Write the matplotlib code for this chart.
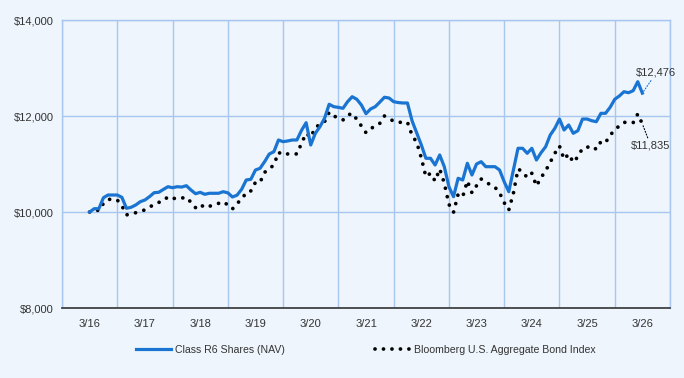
#!/usr/bin/env python3
# coding: utf-8

import matplotlib
matplotlib.use('Agg')
import matplotlib.pyplot as plt
from matplotlib.lines import Line2D
from matplotlib.ticker import FixedLocator, FuncFormatter

plt.rcParams.update({
        'font.family' : ['Liberation Sans', 'DejaVu Sans'],
        'font.size'   : 8,
        })

# monthly values, 3/16 .. 3/26
fund = [10000, 10069, 10069, 10298, 10354, 10354, 10354, 10306, 10077, 10098,
        10146, 10215, 10250, 10320, 10402, 10410, 10470, 10527, 10506, 10527,
        10520, 10548, 10458, 10381, 10410, 10369, 10390, 10390, 10390, 10423,
        10400, 10313, 10350, 10473, 10667, 10681, 10875, 10910, 11050, 11208,
        11256, 11500, 11465, 11480, 11500, 11500, 11700, 11860, 11396, 11640,
        11777, 11952, 12244, 12194, 12180, 12160, 12298, 12402, 12348, 12229,
        12048, 12146, 12194, 12290, 12390, 12375, 12298, 12280, 12271, 12271,
        11900, 11650, 11400, 11119, 11119, 10979, 11188, 10944, 10527, 10319,
        10702, 10667, 11015, 10771, 11000, 11048, 10944, 10944, 10944, 10875,
        10631, 10423, 10875, 11327, 11327, 11223, 11327, 11083, 11235, 11360,
        11604, 11744, 11937, 11708, 11813, 11640, 11694, 11937, 11937, 11902,
        11881, 12056, 12056, 12181, 12348, 12417, 12506, 12485, 12527, 12715,
        12476]

index = [10000, 10050, 10030, 10180, 10260, 10270, 10250, 10130, 9940, 9960,
         9985, 10020, 10042, 10100, 10160, 10200, 10230, 10319, 10290, 10271,
         10290, 10306, 10202, 10090, 10160, 10090, 10120, 10146, 10180, 10215,
         10146, 10063, 10180, 10260, 10410, 10440, 10619, 10619, 10827, 10900,
         10980, 11244, 11188, 11210, 11220, 11208, 11431, 11640, 11556, 11765,
         11820, 11881, 12077, 12000, 11960, 11917, 12015, 12056, 11931, 11792,
         11652, 11730, 11800, 11848, 12000, 11950, 11890, 11869, 11869, 11869,
         11600, 11450, 11131, 10735, 10806, 10646, 10896, 10600, 10160, 9994,
         10369, 10319, 10646, 10400, 10548, 10688, 10620, 10570, 10515, 10400,
         10194, 10042, 10390, 10896, 10840, 10715, 10806, 10542, 10715, 10860,
         11035, 11223, 11375, 11098, 11208, 11035, 11152, 11327, 11348, 11375,
         11306, 11465, 11444, 11604, 11700, 11800, 11869, 11860, 11860, 12042,
         11835]

year_labels = ['3/16', '3/17', '3/18', '3/19', '3/20', '3/21',
               '3/22', '3/23', '3/24', '3/25', '3/26']
y_ticks = [8000, 10000, 12000, 14000]

bg = '#EEF5FC'
grid_c = '#A8C7EF'
blue = '#1A74D2'
txt = '#333333'

months = list(range(len(fund)))

fig = plt.figure(figsize=(6.84, 3.78), dpi=100, facecolor=bg)
ax = fig.add_axes([62/684, 1-308/378, 608/684, 288/378], facecolor=bg)

ax.plot(months, fund, color=blue, lw=2.3, solid_joinstyle='round', zorder=3)
ax.plot(months, index, color='black', lw=2.7, linestyle=(0, (0.01, 2.3)),
        dash_capstyle='round', zorder=2)

ax.set_xlim(-6, 126)
ax.set_ylim(8000, 14000)

ax.xaxis.set_major_locator(FixedLocator(range(0, 121, 12)))
ax.set_xticklabels(year_labels)
ax.xaxis.set_minor_locator(FixedLocator(range(-6, 127, 12)))
ax.set_yticks(y_ticks)
ax.yaxis.set_major_formatter(FuncFormatter(lambda v, p: '${:,.0f}'.format(v)))

ax.tick_params(axis='both', which='both', length=0, colors=txt, labelsize=8)
ax.tick_params(axis='x', pad=8)
ax.tick_params(axis='y', pad=6)

ax.grid(True, which='minor', axis='x', color=grid_c, lw=1)
ax.grid(True, which='major', axis='y', color=grid_c, lw=1)
ax.grid(False, which='major', axis='x')
ax.set_axisbelow(True)

for s in ['left', 'top', 'right']:
  ax.spines[s].set_color(grid_c)
  ax.spines[s].set_linewidth(1)
ax.spines['bottom'].set_color('#333333')
ax.spines['bottom'].set_linewidth(1.2)

# end value labels
ax.annotate('${:,}'.format(fund[-1]), xy=(months[-1], fund[-1]),
            xytext=(10, 11), textcoords='offset points', ha='center', va='bottom',
            color=txt, fontsize=8,
            arrowprops=dict(arrowstyle='-', linestyle=':', color=blue, lw=0.8,
                            shrinkA=0, shrinkB=1))
ax.annotate('${:,}'.format(index[-1]), xy=(months[-1], index[-1]),
            xytext=(6, -12), textcoords='offset points', ha='center', va='top',
            color=txt, fontsize=8,
            arrowprops=dict(arrowstyle='-', linestyle=':', color='black', lw=0.8,
                            shrinkA=0, shrinkB=1))

handles = [Line2D([], [], color=blue, lw=2.3),
           Line2D([], [], color='black', lw=2.7, linestyle=(0, (0.01, 2.25)),
                  dash_capstyle='round')]
fig.legend(handles, ['Class R6 Shares (NAV)', 'Bloomberg U.S. Aggregate Bond Index'],
           loc='center', bbox_to_anchor=(0.535, 0.074), ncol=2, frameon=False,
           handlelength=3.3, handletextpad=0.35, columnspacing=8.6,
           labelcolor=txt, fontsize=7.6)

plt.savefig('out.png', dpi=100, facecolor=bg)
